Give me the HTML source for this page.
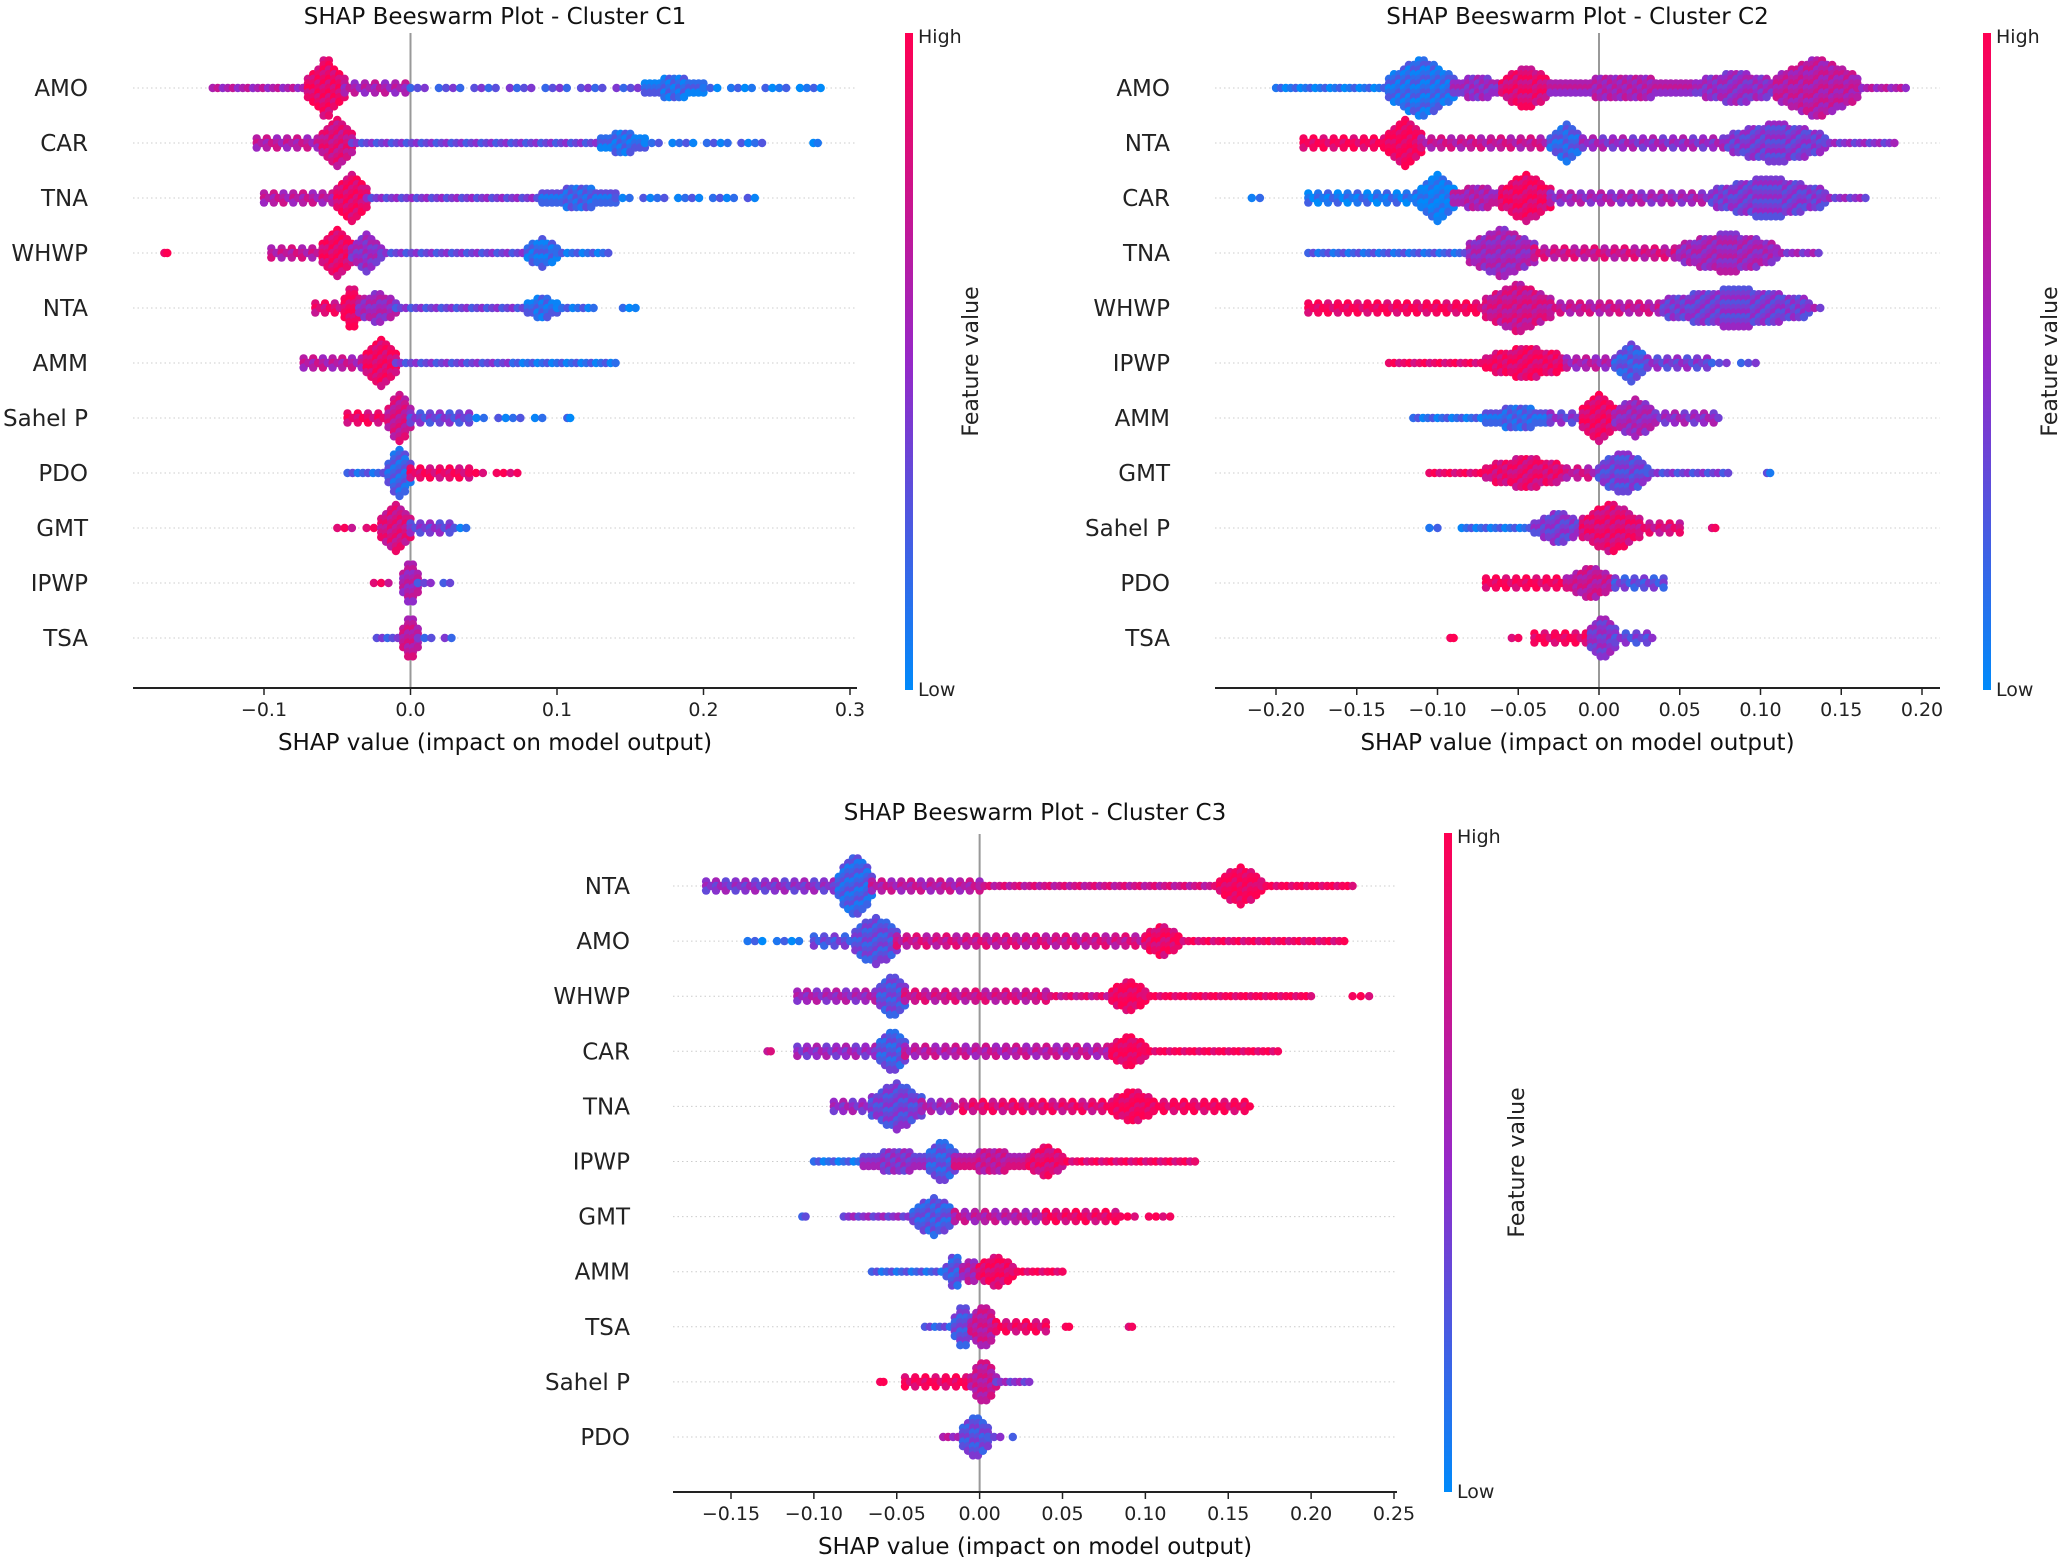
<!DOCTYPE html>
<html><head><meta charset="utf-8">
<style>
html,body{margin:0;padding:0;background:#fff;}
svg{display:block;font-family:"DejaVu Sans","Liberation Sans",sans-serif;}
</style></head>
<body>
<svg id="chart" width="2067" height="1557" viewBox="0 0 2067 1557" xmlns="http://www.w3.org/2000/svg">
<defs>
<linearGradient id="cbar" x1="0" y1="1" x2="0" y2="0">
<stop offset="0" stop-color="rgb(0,138,250)"/>
<stop offset="0.5" stop-color="rgb(150,40,200)"/>
<stop offset="1" stop-color="rgb(255,0,82)"/>
</linearGradient>
</defs>
</svg>
<script>
// ---------- data (segments: [x0, x1, spread, featureColor 0=low..1=high]) ----------
const c1Features = ["AMO","CAR","TNA","WHWP","NTA","AMM","Sahel P","PDO","GMT","IPWP","TSA"];
const c1Ticks = [-0.1,0.0,0.1,0.2,0.3];
const c1TickLabels = ["\u22120.1","0.0","0.1","0.2","0.3"];
const c1Segments = [
 [[-0.135,-0.07,4,0.6],[-0.07,-0.045,22,0.9],[-0.045,0.0,5,0.6],[0.0,0.16,3,0.3],[0.16,0.2,8,0.15],[0.2,0.28,3,0.1]],
 [[-0.105,-0.06,6,0.65],[-0.06,-0.04,20,0.8],[-0.04,0.13,4,0.35],[0.13,0.16,9,0.15],[0.16,0.24,3,0.15],[0.275,0.278,2,0.1]],
 [[-0.1,-0.05,5,0.65],[-0.05,-0.03,20,0.9],[-0.03,0.09,4,0.4],[0.09,0.14,8,0.2],[0.14,0.235,3,0.15]],
 [[-0.168,-0.166,2,0.9],[-0.095,-0.06,6,0.7],[-0.06,-0.04,20,0.9],[-0.04,-0.02,14,0.5],[-0.02,0.08,4,0.35],[0.08,0.1,10,0.15],[0.1,0.135,4,0.15]],
 [[-0.065,-0.045,6,0.85],[-0.045,-0.035,20,0.95],[-0.035,-0.01,12,0.55],[-0.01,0.08,4,0.35],[0.08,0.1,8,0.15],[0.1,0.125,4,0.15],[0.145,0.158,3,0.05]],
 [[-0.073,-0.03,5,0.65],[-0.03,-0.01,18,0.9],[-0.01,0.07,4,0.35],[0.07,0.14,4,0.15]],
 [[-0.043,-0.015,5,0.9],[-0.015,0.0,18,0.75],[0.0,0.04,5,0.35],[0.04,0.09,3,0.15],[0.107,0.109,2,0.1]],
 [[-0.043,-0.015,4,0.2],[-0.015,0.0,18,0.2],[0.0,0.04,7,0.9],[0.04,0.073,3,0.95]],
 [[-0.05,-0.02,3,0.85],[-0.02,0.0,18,0.8],[0.0,0.03,6,0.4],[0.03,0.042,2,0.15]],
 [[-0.025,-0.005,3,0.85],[-0.005,0.005,18,0.6],[0.005,0.027,3,0.35]],
 [[-0.023,-0.005,4,0.3],[-0.005,0.005,18,0.7],[0.005,0.028,3,0.3]]
];
const c2Features = ["AMO","NTA","CAR","TNA","WHWP","IPWP","AMM","GMT","Sahel P","PDO","TSA"];
const c2Ticks = [-0.2,-0.15,-0.1,-0.05,0,0.05,0.1,0.15,0.2];
const c2TickLabels = ["\u22120.20","\u22120.15","\u22120.10","\u22120.05","0.00","0.05","0.10","0.15","0.20"];
const c2Segments = [
 [[-0.2,-0.13,4,0.1],[-0.13,-0.09,22,0.15],[-0.09,-0.06,8,0.5],[-0.06,-0.03,16,0.85],[-0.03,0.06,8,0.6],[0.06,0.11,10,0.5],[0.11,0.16,22,0.65],[0.16,0.19,4,0.6]],
 [[-0.183,-0.13,6,0.95],[-0.13,-0.11,20,0.95],[-0.11,-0.03,6,0.7],[-0.03,-0.01,14,0.2],[-0.01,0.08,6,0.5],[0.08,0.14,14,0.4],[0.14,0.183,4,0.45]],
 [[-0.215,-0.21,2,0.05],[-0.18,-0.11,5,0.1],[-0.11,-0.09,20,0.05],[-0.09,-0.06,8,0.6],[-0.06,-0.03,18,0.9],[-0.03,0.07,7,0.55],[0.07,0.14,14,0.4],[0.14,0.165,4,0.45]],
 [[-0.18,-0.08,4,0.2],[-0.08,-0.04,18,0.55],[-0.04,0.05,5,0.75],[0.05,0.11,13,0.55],[0.11,0.136,4,0.5]],
 [[-0.18,-0.07,6,0.95],[-0.07,-0.03,20,0.75],[-0.03,0.04,6,0.7],[0.04,0.13,16,0.4],[0.13,0.137,4,0.5]],
 [[-0.13,-0.07,4,0.9],[-0.07,-0.02,10,0.9],[-0.02,0.01,6,0.6],[0.01,0.03,16,0.25],[0.03,0.07,5,0.4],[0.07,0.097,3,0.3]],
 [[-0.115,-0.07,4,0.15],[-0.07,-0.03,8,0.2],[-0.03,-0.01,5,0.4],[-0.01,0.01,18,0.9],[0.01,0.035,14,0.55],[0.035,0.074,5,0.5]],
 [[-0.105,-0.07,4,0.9],[-0.07,-0.02,10,0.85],[-0.02,0.0,6,0.7],[0.0,0.03,16,0.35],[0.03,0.08,4,0.35],[0.104,0.106,2,0.2]],
 [[-0.105,-0.1,2,0.1],[-0.085,-0.04,4,0.15],[-0.04,-0.01,10,0.4],[-0.01,0.025,20,0.85],[0.025,0.05,5,0.8],[0.07,0.072,2,0.95]],
 [[-0.07,-0.02,5,0.95],[-0.02,0.01,12,0.7],[0.01,0.04,5,0.3]],
 [[-0.092,-0.09,2,0.95],[-0.054,-0.05,2,0.95],[-0.04,-0.005,6,0.95],[-0.005,0.01,18,0.45],[0.01,0.033,5,0.35]]
];
const c3Features = ["NTA","AMO","WHWP","CAR","TNA","IPWP","GMT","AMM","TSA","Sahel P","PDO"];
const c3Ticks = [-0.15,-0.1,-0.05,0,0.05,0.1,0.15,0.2,0.25];
const c3TickLabels = ["\u22120.15","\u22120.10","\u22120.05","0.00","0.05","0.10","0.15","0.20","0.25"];
const c3Segments = [
 [[-0.165,-0.085,5,0.45],[-0.085,-0.065,24,0.2],[-0.065,0.0,5,0.65],[0.0,0.145,4,0.75],[0.145,0.17,14,0.95],[0.17,0.225,4,0.95]],
 [[-0.14,-0.1,3,0.1],[-0.1,-0.075,6,0.3],[-0.075,-0.05,20,0.3],[-0.05,0.1,5,0.75],[0.1,0.12,10,0.9],[0.12,0.22,4,0.9]],
 [[-0.11,-0.06,5,0.55],[-0.06,-0.045,20,0.3],[-0.045,0.04,5,0.75],[0.04,0.08,4,0.8],[0.08,0.1,10,0.95],[0.1,0.2,4,0.95],[0.225,0.235,2,0.95]],
 [[-0.128,-0.126,2,0.7],[-0.11,-0.06,5,0.5],[-0.06,-0.045,20,0.25],[-0.045,0.08,5,0.65],[0.08,0.1,10,0.95],[0.1,0.18,4,0.95]],
 [[-0.088,-0.065,5,0.5],[-0.065,-0.035,20,0.35],[-0.035,-0.015,6,0.55],[-0.01,0.08,5,0.85],[0.08,0.105,12,0.95],[0.105,0.163,5,0.95]],
 [[-0.1,-0.07,4,0.15],[-0.07,-0.03,8,0.45],[-0.03,-0.015,18,0.25],[-0.015,0.03,8,0.7],[0.03,0.05,12,0.85],[0.05,0.13,4,0.9]],
 [[-0.107,-0.105,2,0.2],[-0.082,-0.04,4,0.45],[-0.04,-0.015,16,0.25],[-0.015,0.04,7,0.65],[0.04,0.085,6,0.9],[0.085,0.115,3,0.95]],
 [[-0.065,-0.02,4,0.2],[-0.02,-0.01,16,0.25],[-0.01,0.0,12,0.6],[0.0,0.02,10,0.9],[0.02,0.05,4,0.95]],
 [[-0.033,-0.015,4,0.25],[-0.015,-0.005,18,0.3],[-0.005,0.01,14,0.7],[0.01,0.04,5,0.9],[0.052,0.054,2,0.95],[0.09,0.092,2,0.95]],
 [[-0.06,-0.058,2,0.95],[-0.045,-0.005,5,0.95],[-0.005,0.01,14,0.7],[0.01,0.03,4,0.45]],
 [[-0.022,-0.01,4,0.6],[-0.01,0.005,18,0.3],[0.005,0.02,3,0.35]]
];

// ---------- layout ----------
const NS = "http://www.w3.org/2000/svg";
const svg = document.getElementById("chart");
function mk(tag, attrs, parent){
  const e = document.createElementNS(NS, tag);
  for (const k in attrs) e.setAttribute(k, attrs[k]);
  (parent||svg).appendChild(e);
  return e;
}
function color(c){
  c = Math.max(0, Math.min(1, c));
  let a, b, t;
  if (c < 0.5){ a=[0,138,250]; b=[150,40,200]; t=c/0.5; }
  else { a=[150,40,200]; b=[255,0,82]; t=(c-0.5)/0.5; }
  return "rgb("+a.map((v,i)=>Math.round(v+(b[i]-v)*t)).join(",")+")";
}

const panels = [
 {id:"c1", title:"SHAP Beeswarm Plot - Cluster C1", features:c1Features, segs:c1Segments, ticks:c1Ticks, tickLabels:c1TickLabels,
  xmin:-0.1, pxMin:264, xmax:0.3, pxMax:850, axL:133, axR:857, axY:688, row0:88, rowStep:55, zeroTop:33,
  labelR:88, cbX:905, cbTop:33, cbBot:690, fvX:978, titleY:24},
 {id:"c2", title:"SHAP Beeswarm Plot - Cluster C2", features:c2Features, segs:c2Segments, ticks:c2Ticks, tickLabels:c2TickLabels,
  xmin:-0.2, pxMin:1276, xmax:0.2, pxMax:1922, axL:1215, axR:1940, axY:688, row0:88, rowStep:55, zeroTop:33,
  labelR:1170, cbX:1983, cbTop:33, cbBot:690, fvX:2057, titleY:24},
 {id:"c3", title:"SHAP Beeswarm Plot - Cluster C3", features:c3Features, segs:c3Segments, ticks:c3Ticks, tickLabels:c3TickLabels,
  xmin:-0.15, pxMin:731, xmax:0.25, pxMax:1394, axL:673, axR:1397, axY:1492, row0:886, rowStep:55.1, zeroTop:834,
  labelR:630, cbX:1444, cbTop:833, cbBot:1492, fvX:1524, titleY:820}
];

panels.forEach(p => {
  const g = mk("g", {});
  
  
  const X = v => p.pxMin + (v - p.xmin) * (p.pxMax - p.pxMin) / (p.xmax - p.xmin);
  const Y = i => p.row0 + i * p.rowStep;
  const x0 = X(0);

  const t = mk("text", {x:(p.axL+p.axR)/2, y:p.titleY, "text-anchor":"middle", "font-size":"23", fill:"#111"}, g);
  t.textContent = p.title;
  
  

  p.features.forEach((f, i) => {
    const ln = mk("line", {x1:p.axL, x2:p.axR, y1:Y(i), y2:Y(i), stroke:"#ccc", "stroke-width":"1", "stroke-dasharray":"1.5,3"}, g);
    
    
    const lb = mk("text", {x:p.labelR, y:Y(i)+8, "text-anchor":"end", "font-size":"23", fill:"#222"}, g);
    lb.textContent = f;
    
    
  });

  const zl = mk("line", {x1:x0, x2:x0, y1:p.zeroTop, y2:p.axY, stroke:"#999", "stroke-width":"2"}, g);
  
  

  const dg = mk("g", {}, g);
  
  
  p.segs.forEach((row, i) => {
    const cy = Y(i);
    let idx = 0;
    row.forEach(seg => {
      const a = X(seg[0]), b = X(seg[1]);
      const h = seg[2];
      const peak = h >= 8;
      const n = peak ? Math.round(h * 1.25 / 4.6) : (h >= 5 ? 1 : 0);
      const step = h <= 3 ? 7 : 5;
      const cols = Math.max(1, Math.round((b - a) / step));
      for (let k = 0; k <= cols; k++){
        if (h <= 3 && k % 5 === 3) continue;
        if (h <= 5 && !peak && k % 3 === 1 && n === 0) { /* keep */ }
        const tt = cols ? k / cols : 0.5;
        const cx = a + (b - a) * tt;
        let nk = n;
        if (peak) nk = Math.round(n * (0.3 + 0.7 * Math.pow(1 - Math.abs(2*tt - 1), 0.8)));
        else if (n === 1 && k % 2 === 1) nk = 0;
        for (let j = -nk; j <= nk; j++){
          idx++;
          const cc = seg[3] + ((idx % 3) - 1) * 0.12;
          const d = mk("circle", {cx:cx.toFixed(1), cy:(cy + j*4.6).toFixed(1), r:"4.2", fill:color(cc)}, dg);
          
          
        }
      }
    });
  });

  const ax = mk("line", {x1:p.axL, x2:p.axR, y1:p.axY, y2:p.axY, stroke:"#222", "stroke-width":"2"}, g);
  
  
  p.ticks.forEach((v, k) => {
    const tk = mk("line", {x1:X(v), x2:X(v), y1:p.axY, y2:p.axY+7, stroke:"#222", "stroke-width":"1.5"}, g);
    
    
    const tl = mk("text", {x:X(v), y:p.axY+28, "text-anchor":"middle", "font-size":"19", fill:"#222"}, g);
    tl.textContent = p.tickLabels[k];
    
    
  });
  const xl = mk("text", {x:(p.axL+p.axR)/2, y:p.axY+62, "text-anchor":"middle", "font-size":"23", fill:"#111"}, g);
  xl.textContent = "SHAP value (impact on model output)";
  
  

  const cb = mk("rect", {x:p.cbX, y:p.cbTop, width:"8", height:p.cbBot-p.cbTop, fill:"url(#cbar)"}, g);
  
  
  const hi = mk("text", {x:p.cbX+13, y:p.cbTop+10, "font-size":"19", fill:"#222"}, g);
  hi.textContent = "High";
  
  
  const lo = mk("text", {x:p.cbX+13, y:p.cbBot+6, "font-size":"19", fill:"#222"}, g);
  lo.textContent = "Low";
  
  
  const fy = (p.cbTop + p.cbBot) / 2;
  const fv = mk("text", {x:p.fvX, y:fy, "text-anchor":"middle", "font-size":"22", fill:"#222", transform:"rotate(-90 "+p.fvX+" "+fy+")"}, g);
  fv.textContent = "Feature value";
  
  
});
</script>
</body></html>
